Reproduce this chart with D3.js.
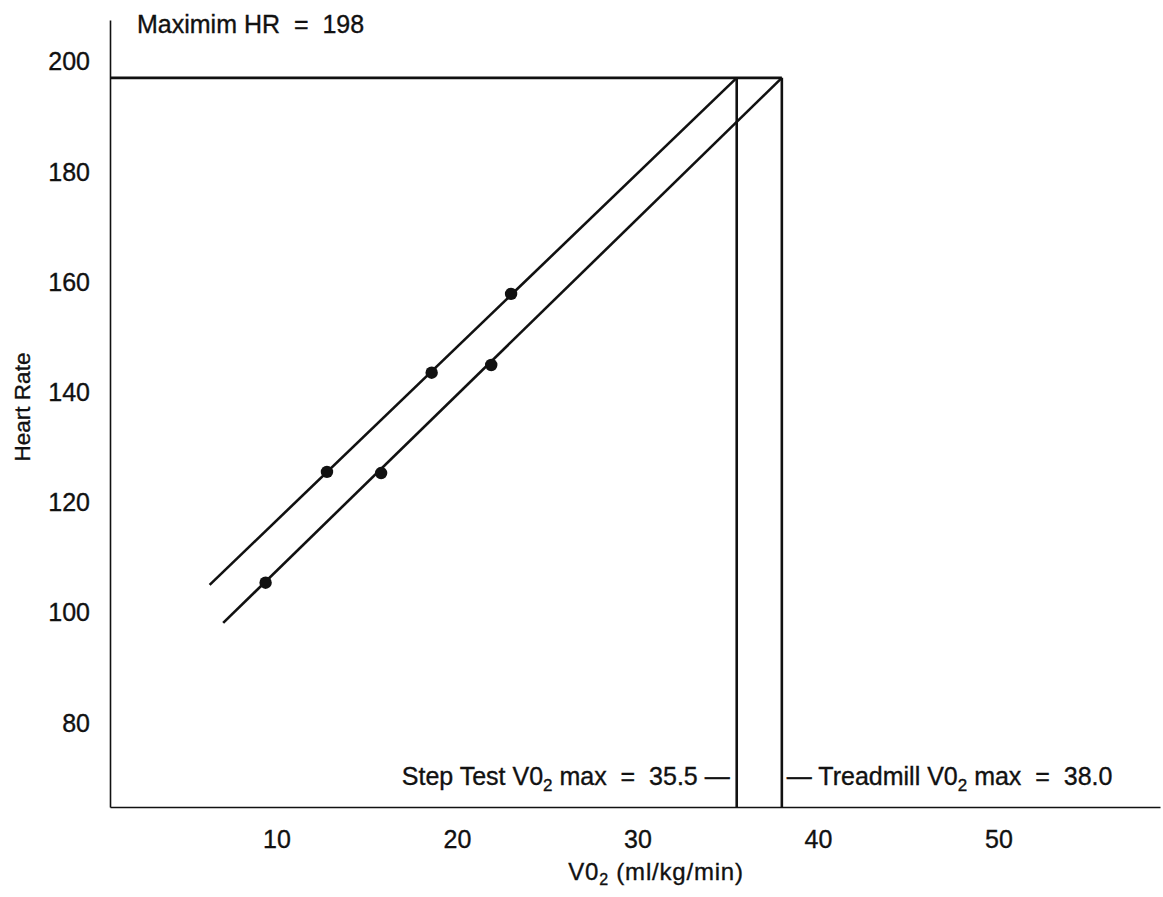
<!DOCTYPE html>
<html>
<head>
<meta charset="utf-8">
<script src="https://cdn.jsdelivr.net/npm/d3@7"></script>
<style>
  html, body { margin: 0; padding: 0; background: #fff; }
  svg { display: block; }
  text { font-family: "Liberation Sans", Arial, Helvetica, sans-serif; fill: #111; stroke: #111; stroke-width: 0.35px; }
</style>
</head>
<body>
<svg id="chart" width="1163" height="897"></svg>
<script>
// ---- data ----
const xTicks = [10, 20, 30, 40, 50];
const yTicks = [80, 100, 120, 140, 160, 180, 200];
const stepPoints = [[12.8, 126.5], [18.6, 144.5], [23.0, 158.8]];      // upper line (step test)
const treadPoints = [[9.4, 106.4], [15.8, 126.3], [21.9, 145.9]];      // lower line (treadmill)
const stepLine = [[6.3, 106.0], [35.5, 198]];
const treadLine = [[7.05, 99.1], [38.0, 198]];
const maxHR = 198;
const stepMax = 35.5;
const treadMax = 38.0;
const xDomain = [0.78, 58.95];
const yDomain = [65.7, 208.5];

// ---- layout ----
const EQ = "\u00a0\u00a0=\u00a0\u00a0";
const svg = d3.select("#chart");
const x = d3.scaleLinear().domain(xDomain).range([110, 1160]);
const y = d3.scaleLinear().domain(yDomain).range([807, 20]);

// axes
const gx = svg.append("g").attr("transform", `translate(0,${y(yDomain[0])})`)
  .call(d3.axisBottom(x).tickValues(xTicks).tickSize(0).tickSizeOuter(0).tickPadding(23).tickFormat(d3.format("d")));
gx.select(".domain").attr("stroke", "#111").attr("stroke-width", 1.6);
gx.selectAll("text").style("font-size", "25px").attr("fill", "#111");

const gy = svg.append("g").attr("transform", `translate(${x(xDomain[0])},0)`)
  .call(d3.axisLeft(y).tickValues(yTicks).tickSize(0).tickSizeOuter(0).tickPadding(20).tickFormat(d3.format("d")));
gy.select(".domain").attr("stroke", "#111").attr("stroke-width", 1.6);
gy.selectAll("text").style("font-size", "25px").attr("fill", "#111").attr("y", -5);

// max HR horizontal line
svg.append("line")
  .attr("x1", x(xDomain[0])).attr("x2", x(treadMax))
  .attr("y1", y(maxHR)).attr("y2", y(maxHR))
  .attr("stroke", "#111").attr("stroke-width", 2.6);

// vertical max lines
[stepMax, treadMax].forEach(v => {
  svg.append("line")
    .attr("x1", x(v)).attr("x2", x(v))
    .attr("y1", y(maxHR)).attr("y2", y(yDomain[0]))
    .attr("stroke", "#111").attr("stroke-width", 2.6);
});

// regression lines
const lineGen = d3.line().x(d => x(d[0])).y(d => y(d[1]));
[stepLine, treadLine].forEach(l => {
  svg.append("path").attr("d", lineGen(l))
    .attr("fill", "none").attr("stroke", "#111").attr("stroke-width", 2.6);
});

// points
svg.append("g").selectAll("circle").data(stepPoints.concat(treadPoints)).join("circle")
  .attr("cx", d => x(d[0])).attr("cy", d => y(d[1])).attr("r", 6.2).attr("fill", "#111");

// labels
svg.append("text").attr("x", 137).attr("y", 33).style("font-size", "25px")
  .text("Maximim HR" + EQ + "198");

const left = svg.append("text").attr("x", x(stepMax) - 7).attr("y", 785)
  .attr("text-anchor", "end").style("font-size", "25px");
left.append("tspan").text("Step Test V0");
left.append("tspan").text("2").style("font-size", "17px").attr("dy", 6);
left.append("tspan").text(" max" + EQ + "35.5 —").attr("dy", -6);

const right = svg.append("text").attr("x", x(treadMax) + 5).attr("y", 785)
  .style("font-size", "25px");
right.append("tspan").text("— Treadmill V0");
right.append("tspan").text("2").style("font-size", "17px").attr("dy", 6);
right.append("tspan").text(" max" + EQ + "38.0").attr("dy", -6);

const xl = svg.append("text").attr("x", 656).attr("y", 880)
  .attr("text-anchor", "middle").style("font-size", "24px").style("letter-spacing", "0.8px");
xl.append("tspan").text("V0");
xl.append("tspan").text("2").style("font-size", "16px").attr("dy", 5);
xl.append("tspan").text(" (ml/kg/min)").attr("dy", -5);

svg.append("text").attr("transform", "translate(30,407) rotate(-90)")
  .attr("text-anchor", "middle").style("font-size", "22.5px").text("Heart Rate");
</script>
</body>
</html>
